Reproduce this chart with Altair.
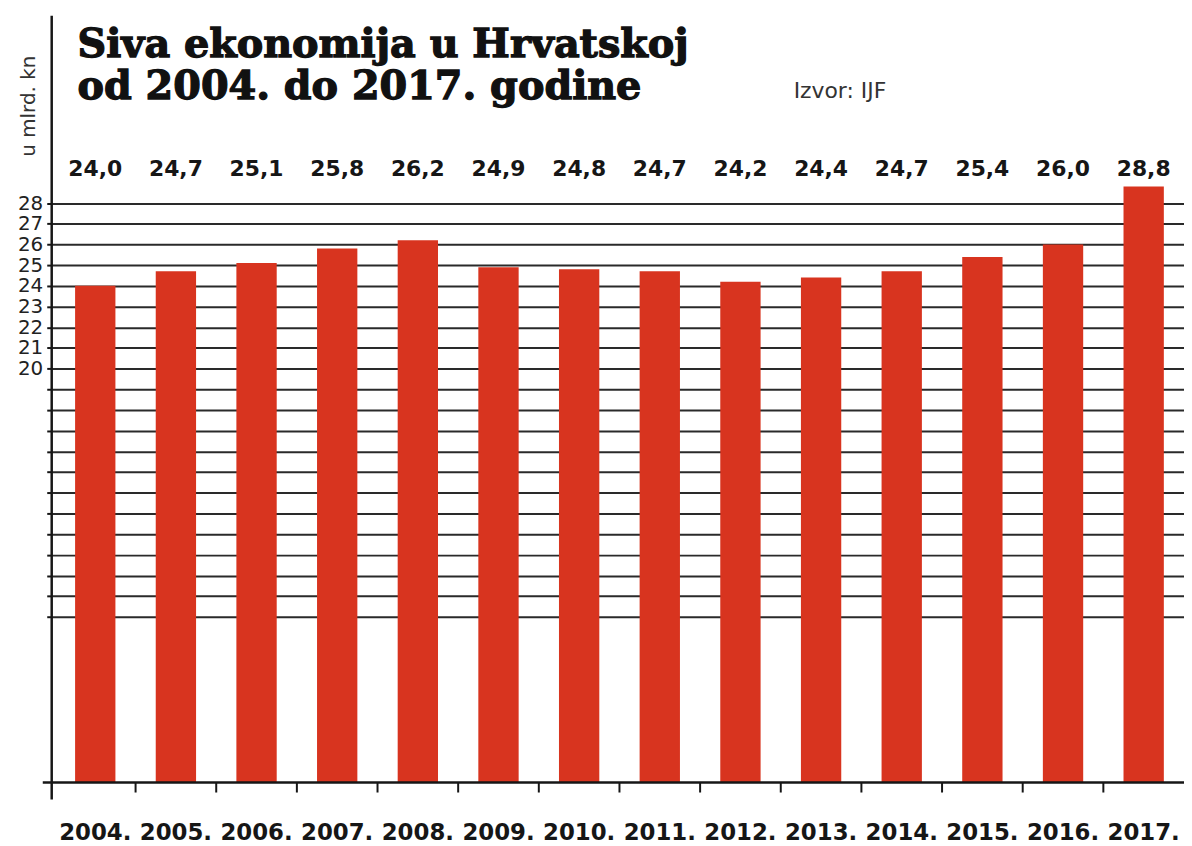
import altair as alt
import pandas as pd

years = ["2004.", "2005.", "2006.", "2007.", "2008.", "2009.", "2010.",
         "2011.", "2012.", "2013.", "2014.", "2015.", "2016.", "2017."]
values = [24.0, 24.7, 25.1, 25.8, 26.2, 24.9, 24.8, 24.7, 24.2, 24.4, 24.7, 25.4, 26.0, 28.8]
value_labels = ["24,0", "24,7", "25,1", "25,8", "26,2", "24,9", "24,8",
                "24,7", "24,2", "24,4", "24,7", "25,4", "26,0", "28,8"]
grid_values = list(range(8, 29))
label_min = 20
title_lines = ["Siva ekonomija u Hrvatskoj", "od 2004. do 2017. godine"]
source_text = "Izvor: IJF"
unit_text = "u mlrd. kn"

W, H = 1140, 771
BAR = "#d8341f"
INK = "#161616"

df = pd.DataFrame({"year": years, "value": values, "label": value_labels})
one = pd.DataFrame({"k": [0]})

x_scale = alt.Scale(paddingInner=0, paddingOuter=0.02, align=1)
x_enc = alt.X(
    "year:N", sort=years, scale=x_scale,
    axis=alt.Axis(title=None, domain=False, grid=False, ticks=False,
                  labelAngle=0, labelFont="DejaVu Sans", labelFontWeight="bold",
                  labelFontSize=23, labelColor=INK, labelPadding=39),
)
y_enc = alt.Y(
    "value:Q",
    scale=alt.Scale(domain=[0, 37], nice=False, zero=True),
    axis=alt.Axis(title=None, values=grid_values, grid=True, gridColor="#2a2a2a",
                  gridWidth=2, domain=False, tickSize=5, tickWidth=2, tickColor=INK,
                  labelExpr=f"datum.value >= {label_min} ? datum.label : ''",
                  labelFont="DejaVu Sans", labelFontSize=20, labelColor="#222",
                  labelPadding=4, labelOverlap=False, labelFlush=False),
)

bars = alt.Chart(df).mark_bar(color=BAR, width=alt.RelativeBandSize(0.5)).encode(x=x_enc, y=y_enc)

# small tick marks on the category axis, between neighbouring bars
xticks = alt.Chart(df).transform_filter(f"datum.year !== '{years[0]}'").mark_rule(
    color=INK, strokeWidth=2
).encode(x=alt.X("year:N", sort=years, bandPosition=0), y=alt.value(H), y2=alt.value(H + 10))

vals = alt.Chart(df).mark_text(
    font="DejaVu Sans", fontWeight="bold", fontSize=22, color=INK, baseline="middle"
).encode(x=alt.X("year:N", sort=years), y=alt.value(153), text="label:N")

yline = alt.Chart(one).mark_rule(color=INK, strokeWidth=2.5).encode(
    x=alt.value(0), y=alt.value(-1), y2=alt.value(H + 17))
xline = alt.Chart(one).mark_rule(color=INK, strokeWidth=2.5).encode(
    x=alt.value(-9), x2=alt.value(W), y=alt.value(H))

title_style = dict(font="DejaVu Serif", fontWeight="bold", fontSize=40, color="#111",
                   stroke="#111", strokeWidth=1.3, align="left", baseline="alphabetic")
t1 = alt.Chart(one).mark_text(**title_style).encode(
    x=alt.value(26), y=alt.value(40), text=alt.value(title_lines[0]))
t2 = alt.Chart(one).mark_text(**title_style).encode(
    x=alt.value(26), y=alt.value(83), text=alt.value(title_lines[1]))
src = alt.Chart(one).mark_text(
    font="DejaVu Sans", fontSize=22, color="#333", align="left", baseline="alphabetic"
).encode(x=alt.value(747), y=alt.value(82), text=alt.value(source_text))
unit = alt.Chart(one).mark_text(
    font="DejaVu Sans", fontSize=20, color="#333", align="center", baseline="middle",
    angle=270
).encode(x=alt.value(-23), y=alt.value(90), text=alt.value(unit_text))

chart = alt.layer(bars, xticks, vals, yline, xline, t1, t2, src, unit).properties(
    width=W, height=H,
    autosize=alt.AutoSizeParams(type="none"),
    padding={"left": 44, "top": 6, "right": 0, "bottom": 62},
    background="white",
).configure_view(strokeWidth=0)

chart.save("out.html", embed_options={"renderer": "svg", "actions": False})
